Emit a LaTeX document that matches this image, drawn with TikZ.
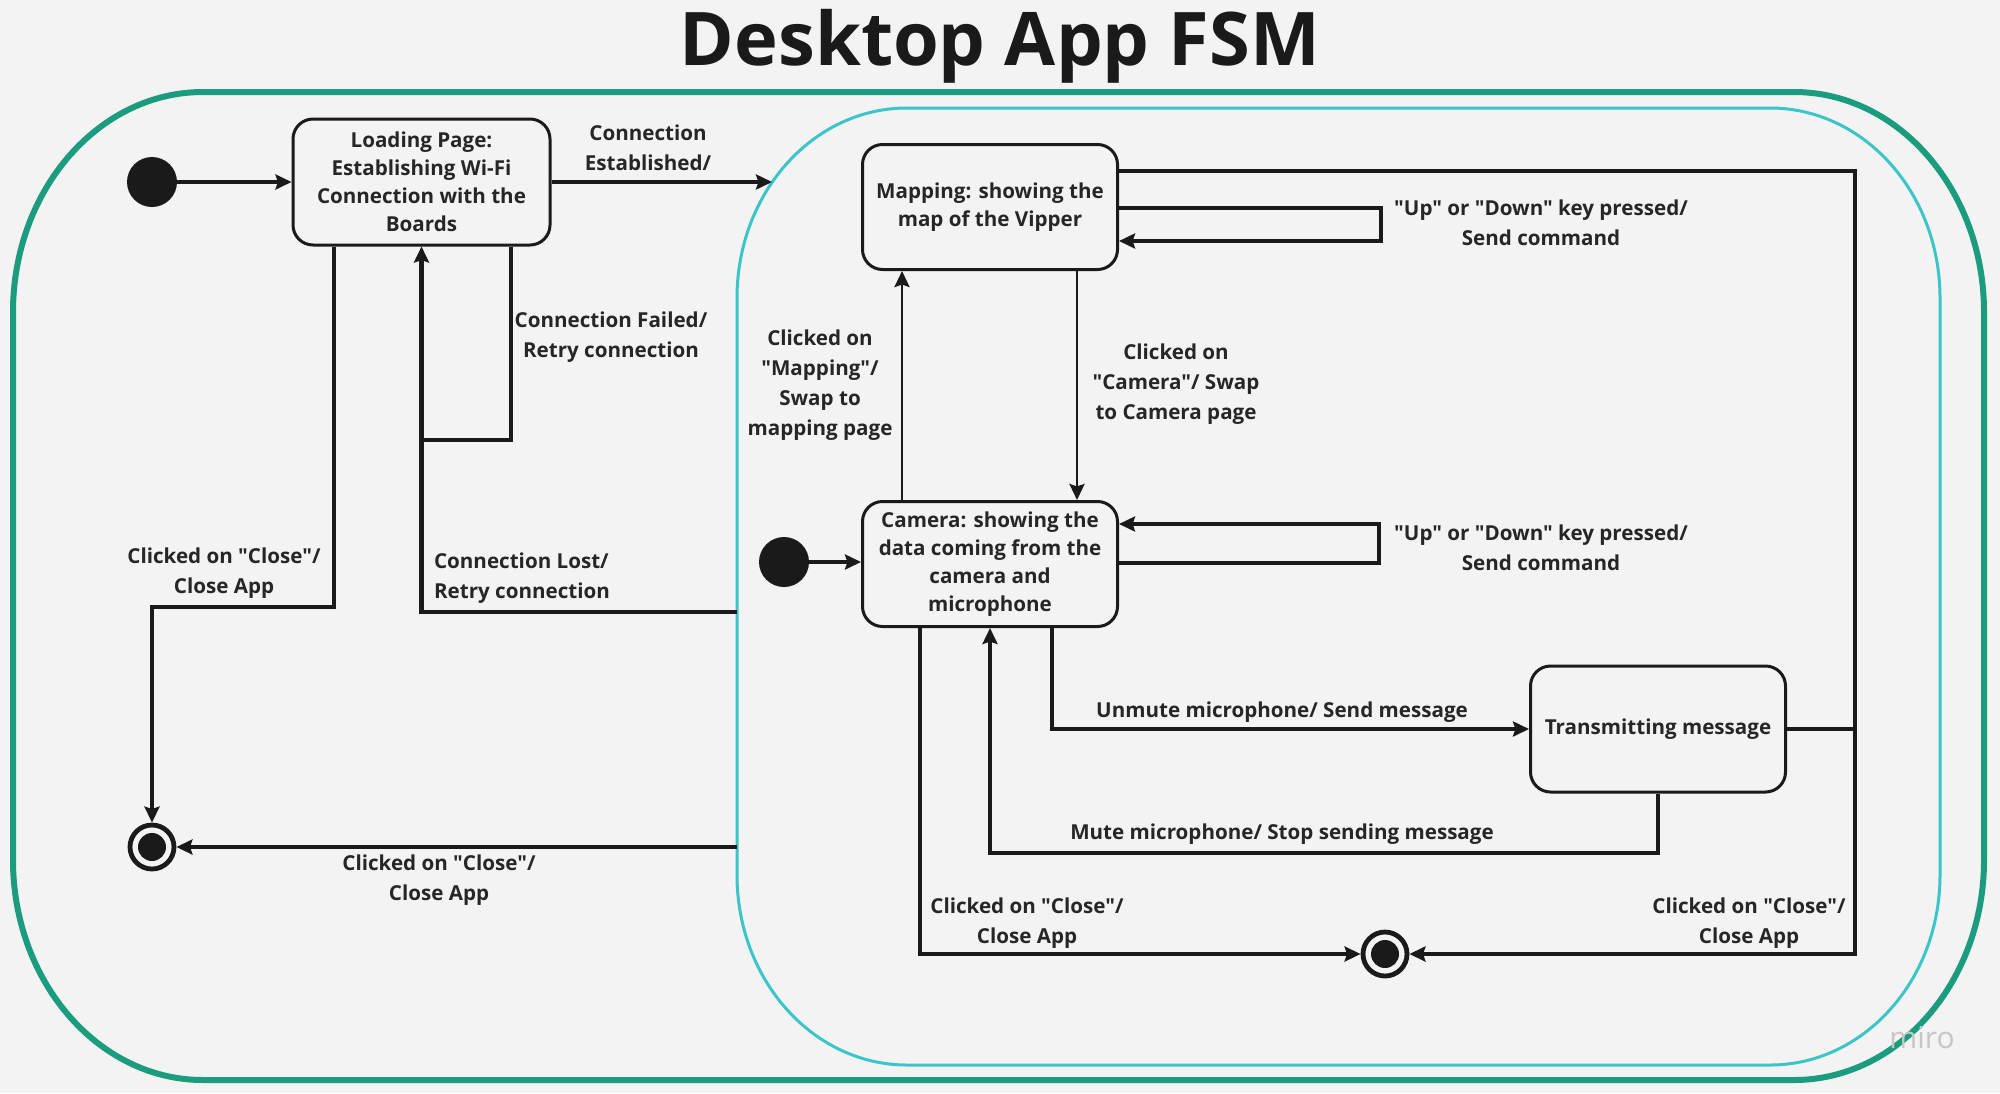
\documentclass[tikz,border=0pt]{standalone}
\usepackage{fontspec}
\setmainfont{Open Sans}
\newfontfamily\lblfont{Open Sans}
\usetikzlibrary{arrows.meta,calc}
\definecolor{bgc}{HTML}{F3F3F3}
\definecolor{outerc}{HTML}{1B9C7E}
\definecolor{innerc}{HTML}{3CC5C9}
\definecolor{inkc}{HTML}{1A1A1A}
\definecolor{txtc}{HTML}{262626}
\tikzset{
  statebox/.style={draw=inkc, line width=1.5pt, rounded corners=10pt, fill=bgc, text=txtc,
    align=center, font=\lblfont\bfseries\fontsize{10.3}{14}\selectfont, inner sep=2pt},
  lbl/.style={align=center, font=\lblfont\bfseries\fontsize{10.3}{15}\selectfont, text=txtc, inner sep=1pt},
  conn/.style={draw=inkc, line width=2.1pt},
  thinconn/.style={draw=inkc, line width=1.4pt},
  arr/.style={-{Stealth[length=8pt,width=7.5pt,inset=1.2pt]}},
  initst/.style={circle, fill=inkc, minimum size=25pt, inner sep=0pt},
  finst/.style={circle, draw=inkc, line width=2.4pt, fill=bgc, minimum size=22pt, inner sep=0pt,
    path picture={\fill[inkc] (path picture bounding box.center) circle[radius=7pt];}},
}
\begin{document}
\begin{tikzpicture}[x=0.5pt,y=-0.5pt]
\fill[bgc] (0,0) rectangle (2000,1093);
\useasboundingbox (0,0) rectangle (2000,1093);
% title
\node[anchor=base, font=\bfseries\fontsize{37}{40}\selectfont, text=inkc] (title) at (1000,65) {Desktop App FSM};
% outer frame
\draw[outerc, line width=3pt]
  (203,92) -- (1794,92) .. controls (1899,92) and (1984,191) .. (1984,312)
  -- (1984,860) .. controls (1984,981) and (1899,1080) .. (1794,1080)
  -- (203,1080) .. controls (98,1080) and (13,981) .. (13,860)
  -- (13,312) .. controls (13,191) and (98,92) .. (203,92) -- cycle;
% inner frame
\draw[innerc, line width=1.5pt]
  (907,108) -- (1770,108) .. controls (1864,108) and (1940,193) .. (1940,298)
  -- (1940,875) .. controls (1940,980) and (1864,1065) .. (1770,1065)
  -- (907,1065) .. controls (813,1065) and (737,980) .. (737,875)
  -- (737,298) .. controls (737,193) and (813,108) .. (907,108) -- cycle;
% states
\node[statebox, minimum width=128.5pt, minimum height=63pt] (load) at (421.5,182)
  {Loading Page:\\Establishing Wi-Fi\\Connection with the\\Boards};
\node[statebox, minimum width=127.5pt, minimum height=62.5pt] (map) at (990,207)
  {Mapping: showing the\\map of the Vipper};
\node[statebox, minimum width=127.5pt, minimum height=62.5pt] (cam) at (990,564)
  {Camera: showing the\\data coming from the\\camera and\\microphone};
\node[statebox, minimum width=127.5pt, minimum height=63pt] (tx) at (1658,729)
  {Transmitting message};
\node[initst] (i1) at (152,182) {};
\node[initst] (i2) at (784,562) {};
\node[finst] (f1) at (152,847) {};
\node[finst] (f2) at (1385,954) {};
\coordinate (ce) at (772,182);
\coordinate (cl) at (737,612);
\coordinate (cc) at (737,847);
% connectors
\draw[conn, arr] (i1) -- (load.west);
\draw[conn, arr] (load.east) -- (ce);
\draw[conn] (load.south -| 511,0) -- (511,440) -- (421.5,440);
\draw[conn, arr] (cl) -- (load.south |- cl) -- (load.south);
\draw[conn, arr] (load.south -| 334,0) -- (334,607) -| (f1.north);
\draw[conn, arr] (cc) -- (f1.east);
\draw[thinconn, arr] (map.south -| 1077,0) -- (cam.north -| 1077,0);
\draw[thinconn, arr] (cam.north -| 902,0) -- (map.south -| 902,0);
\draw[conn, arr] (map.east |- 0,208) -- (1381,208) |- (map.east |- 0,241);
\draw[conn, arr] (cam.east |- 0,563) -- (1379,563) |- (cam.east |- 0,524);
\draw[conn, arr] (i2) -- (cam.west |- i2);
\draw[conn, arr] (cam.south -| 1052,0) |- (tx.west);
\draw[conn, arr] (tx.south) -- (1658,853) -| (cam.south);
\draw[conn, arr] (cam.south -| 920,0) |- (f2.west);
\draw[conn, arr] (map.east |- 0,171) -- (1855,171) |- (f2.east);
\draw[conn] (tx.east) -- (1855,729);
% labels
\node[lbl] (l1) at (648,148) {Connection\\Established/};
\node[lbl] (l2) at (611,337) {Connection Failed/\\Retry connection};
\node[lbl] (l3) at (224,573) {Clicked on "Close"/\\Close App};
\node[lbl, align=left] (l4) at (522,578) {Connection Lost/\\Retry connection};
\node[lbl] (l5) at (439,880) {Clicked on "Close"/\\Close App};
\node[lbl] (l6) at (820,385) {Clicked on\\"Mapping"/\\Swap to\\mapping page};
\node[lbl] (l7) at (1176,384) {Clicked on\\"Camera"/ Swap\\to Camera page};
\node[lbl] (l8) at (1541,223) {"Up" or "Down" key pressed/\\Send command};
\node[lbl] (l9) at (1541,548) {"Up" or "Down" key pressed/\\Send command};
\node[lbl] (l10) at (1282,712) {Unmute microphone/ Send message};
\node[lbl] (l11) at (1282,834) {Mute microphone/ Stop sending message};
\node[lbl] (l12) at (1027,923) {Clicked on "Close"/\\Close App};
\node[lbl] (l13) at (1749,923) {Clicked on "Close"/\\Close App};
\node[font=\fontsize{15}{18}\selectfont, text=gray!45] (miro) at (1922,1038) {miro};
\end{tikzpicture}
\end{document}
